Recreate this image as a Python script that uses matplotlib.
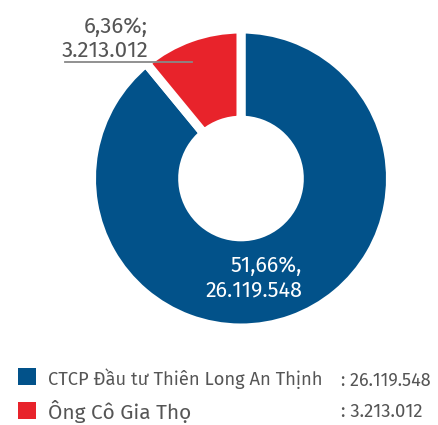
import matplotlib
matplotlib.use("Agg")
import matplotlib.pyplot as plt

# ---- data ----
names = ["CTCP Đầu tư Thiên Long An Thịnh", "Ông Cô Gia Thọ"]
shares = [26119548, 3213012]
share_labels = ["26.119.548", "3.213.012"]
pct_labels = ["51,66%", "6,36%"]
colors = ["#02528a", "#e8232b"]

W, H = 438, 425
fig = plt.figure(figsize=(W / 100, H / 100), dpi=100)

fam = ["Fira Sans", "Open Sans", "DejaVu Sans"]
text_col = "#555555"
wt = "normal"

# donut
cx, cy, R = 241, 178.5, 149.5
ax = fig.add_axes([(cx - R) / W, (H - cy - R) / H, 2 * R / W, 2 * R / H])
ax.pie(shares, colors=colors, startangle=90, counterclock=False, radius=1,
       wedgeprops=dict(width=0.61, edgecolor="white", linewidth=6.5))
ax.set_xlim(-1, 1)
ax.set_ylim(-1, 1)
ax.set_axis_off()

# overlay in pixel coords
ov = fig.add_axes([0, 0, 1, 1], zorder=5)
ov.set_xlim(0, W)
ov.set_ylim(H, 0)
ov.set_axis_off()

# red label
ov.text(148, 57, f"{pct_labels[1]};\n{share_labels[1]}", ha="right", va="baseline",
        fontsize=16, color=text_col, family=fam, weight=wt, linespacing=1.15)
ov.plot([65, 192], [62, 62], color="#888888", lw=1.3)

# blue label
ov.text(302, 296, f"{pct_labels[0]},\n{share_labels[0]}", ha="right", va="baseline",
        fontsize=15.5, color="white", family=fam, weight=wt, linespacing=1.15)

# legend
sizes = [13.2, 15]
vsizes = [13, 13.3]
ys = [385, 419]
sq = [376.5, 410]
for i in range(2):
    ov.add_patch(plt.Rectangle((18, sq[i] - 8.5), 18, 17, color=colors[i], lw=0))
    ov.text(48, ys[i], names[i], ha="left", va="baseline", fontsize=sizes[i],
            color=text_col, family=fam, weight=wt)
    ov.text(341, ys[i] + 1 - i * 3, ": " + share_labels[i], ha="left", va="baseline",
            fontsize=vsizes[i], color=text_col, family=fam, weight=wt)

fig.savefig("out.png", dpi=100)
